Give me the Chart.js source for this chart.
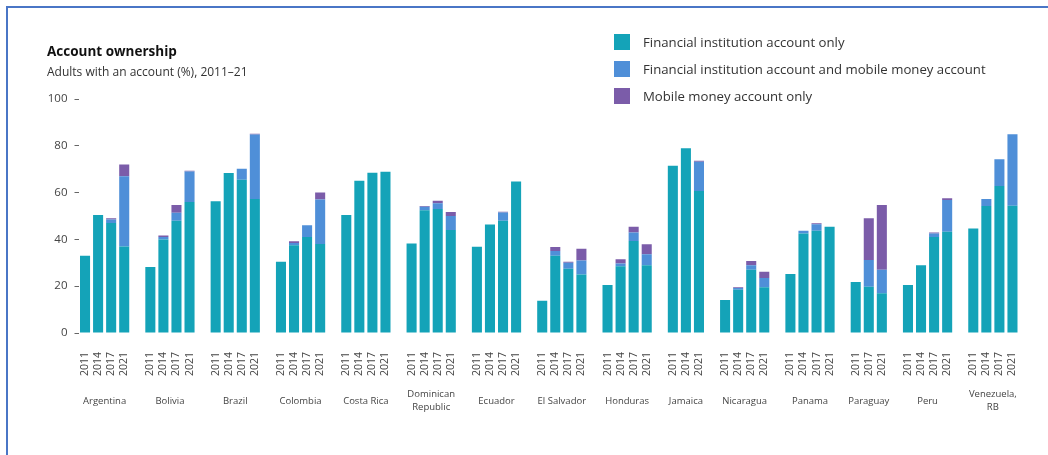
<!DOCTYPE html>
<html>
<head>
<meta charset="utf-8">
<script src="https://cdn.jsdelivr.net/npm/chart.js@4.4.0/dist/chart.umd.min.js"></script>
<style>
  html, body { margin: 0; padding: 0; background: #fff; }
  #wrap { position: relative; width: 1048px; height: 455px; overflow: hidden; font-family: "Open Sans", Lato, sans-serif; }
  #frame { position: absolute; left: 6px; top: 6px; right: 0; bottom: 0; border-top: 2px solid #4a76c6; border-left: 2px solid #4a76c6; }
  #chartBox { position: absolute; left: 0; top: 0; width: 1048px; height: 455px; }
  .title { position: absolute; left: 47px; top: 42px; font-size: 13.5px; font-weight: 700; color: #111; }
  .subtitle { position: absolute; left: 47px; top: 63px; font-size: 12px; color: #333; }
  #legend { position: absolute; left: 614px; top: 28px; }
  .leg-row { display: flex; align-items: center; height: 27px; }
  .leg-sw { width: 16px; height: 16px; margin-right: 13px; }
  .leg-tx { font-size: 13.2px; color: #333; }
</style>
</head>
<body>
<div id="wrap">
  <div id="chartBox"><canvas id="chart"></canvas></div>
  <div id="frame"></div>
  <div class="title">Account ownership</div>
  <div class="subtitle">Adults with an account (%), 2011–21</div>
  <div id="legend"></div>
</div>
<script>
/* ------------------- DATOS ------------------- */
const countries = ['Argentina', 'Bolivia', 'Brazil', 'Colombia', 'Costa Rica', ['Dominican', 'Republic'],
  'Ecuador', 'El Salvador', 'Honduras', 'Jamaica', 'Nicaragua', 'Panama', 'Paraguay', 'Peru', ['Venezuela,', 'RB']];

const years = [
  ['2011', '2014', '2017', '2021'], ['2011', '2014', '2017', '2021'], ['2011', '2014', '2017', '2021'],
  ['2011', '2014', '2017', '2021'], ['2011', '2014', '2017', '2021'], ['2011', '2014', '2017', '2021'],
  ['2011', '2014', '2017', '2021'], ['2011', '2014', '2017', '2021'], ['2011', '2014', '2017', '2021'],
  ['2011', '2014', '2021'], ['2011', '2014', '2017', '2021'], ['2011', '2014', '2017', '2021'],
  ['2011', '2017', '2021'], ['2011', '2014', '2017', '2021'], ['2011', '2014', '2017', '2021']
];

// Financial institution account only
const fiOnly = [
  [33, 50.4, 47, 37], [28.2, 40, 48, 56], [56.3, 68.4, 65.5, 57.3], [30.5, 37.5, 41, 38],
  [50.4, 65.1, 68.5, 68.9], [38.3, 52.5, 53, 44], [36.9, 46.4, 48, 64.7], [13.8, 33, 27.5, 25],
  [20.5, 28.5, 39.3, 29], [71.5, 78.9, 60.7], [14.1, 18.5, 27, 19.5], [25.2, 42.5, 43.7, 45.4],
  [21.8, 19.8, 17], [20.5, 28.9, 41, 43.3], [44.7, 54.3, 62.8, 54.4]
];

// Financial institution account and mobile money account
const fiAndMobile = [
  [0, 0, 1.5, 30], [0, 1, 3.4, 13], [0, 0, 4.7, 27.5], [0, 1, 5, 19],
  [0, 0, 0, 0], [0, 1.5, 2.5, 6], [0, 0, 3.5, 0], [0, 2, 2.5, 6],
  [0, 1.2, 3.7, 4.7], [0, 0, 12.5], [0, 0.7, 2, 4], [0, 1.2, 2.8, 0],
  [0, 11.4, 10], [0, 0, 1.5, 13.5], [0, 3, 11.4, 30.5]
];

// Mobile money account only
const mobileOnly = [
  [0, 0, 0.5, 5], [0, 0.7, 3.3, 0.3], [0, 0, 0, 0.3], [0, 0.7, 0, 3],
  [0, 0, 0, 0], [0, 0.3, 1, 1.7], [0, 0, 0.3, 0], [0, 1.7, 0.5, 5],
  [0, 1.8, 2.4, 4.2], [0, 0, 0.4], [0, 0.3, 1.8, 2.7], [0, 0, 0.4, 0],
  [0, 17.8, 27.7], [0, 0, 0.5, 0.8], [0, 0, 0, 0]
];

const seriesNames = ['Financial institution account only', 'Financial institution account and mobile money account', 'Mobile money account only'];
const seriesColors = ['#14a3b8', '#4f8fd8', '#7b5ca9'];
const yTicks = [0, 20, 40, 60, 80, 100];

/* ------------------- ARMADO DE CATEGORÍAS (con huecos entre países) ------------------- */
const labels = [];
const flat = [[], [], []];
const groupCenters = [];
countries.forEach((c, i) => {
  const start = labels.length;
  years[i].forEach((y, j) => {
    labels.push(y);
    flat[0].push(fiOnly[i][j]);
    flat[1].push(fiAndMobile[i][j]);
    flat[2].push(mobileOnly[i][j]);
  });
  groupCenters.push((start + labels.length - 1) / 2);
  if (i < countries.length - 1) {
    labels.push('');
    flat.forEach(s => s.push(null));
  }
});

// Leyenda en HTML
const legendEl = document.getElementById('legend');
seriesNames.forEach((name, k) => {
  const row = document.createElement('div');
  row.className = 'leg-row';
  row.innerHTML = `<div class="leg-sw" style="background:${seriesColors[k]}"></div><div class="leg-tx">${name}</div>`;
  legendEl.appendChild(row);
});

/* ------------------- GRÁFICO ------------------- */
const font = '"Open Sans", Lato, sans-serif';

new Chart(document.getElementById('chart'), {
  type: 'bar',
  data: {
    labels: labels,
    datasets: seriesNames.map((name, k) => ({
      label: name,
      data: flat[k],
      backgroundColor: seriesColors[k],
      borderWidth: 0,
      barPercentage: 0.77,
      categoryPercentage: 1
    }))
  },
  options: {
    responsive: true,
    maintainAspectRatio: false,
    animation: false,
    layout: { padding: { left: 0, top: 99, right: 29, bottom: 30 } },
    plugins: { legend: { display: false }, tooltip: { enabled: false } },
    scales: {
      x: {
        stacked: true,
        weight: 0,
        grid: { display: false, drawTicks: false },
        border: { display: false },
        ticks: {
          autoSkip: false, minRotation: 90, maxRotation: 90, padding: 19,
          color: '#444', font: { family: font, size: 10.5 }
        },
        afterFit: s => { s.height = 50; }
      },
      x2: {
        type: 'linear',
        position: 'bottom',
        weight: 1,
        offset: false,
        min: -0.5,
        max: labels.length - 0.5,
        grid: { display: false, drawTicks: false, offset: false },
        border: { display: false },
        afterBuildTicks: s => { s.ticks = groupCenters.map(v => ({ value: v })); },
        ticks: {
          autoSkip: false, maxRotation: 0, minRotation: 0, padding: 11, crossAlign: 'center',
          color: '#444', font: { family: font, size: 9.5, lineHeight: 1.45 },
          callback: (v, i) => countries[i]
        },
        afterFit: s => { s.height = 42; }
      },
      y: {
        stacked: true,
        min: 0,
        max: 100,
        afterBuildTicks: s => { s.ticks = yTicks.map(v => ({ value: v })); },
        grid: { display: true, drawOnChartArea: false, drawTicks: true, tickLength: 4, color: '#666' },
        border: { display: false },
        ticks: { padding: 7, color: '#444', font: { family: font, size: 11.5 } },
        afterFit: s => { s.width = 78.5; }
      }
    }
  }
});
</script>
</body>
</html>
